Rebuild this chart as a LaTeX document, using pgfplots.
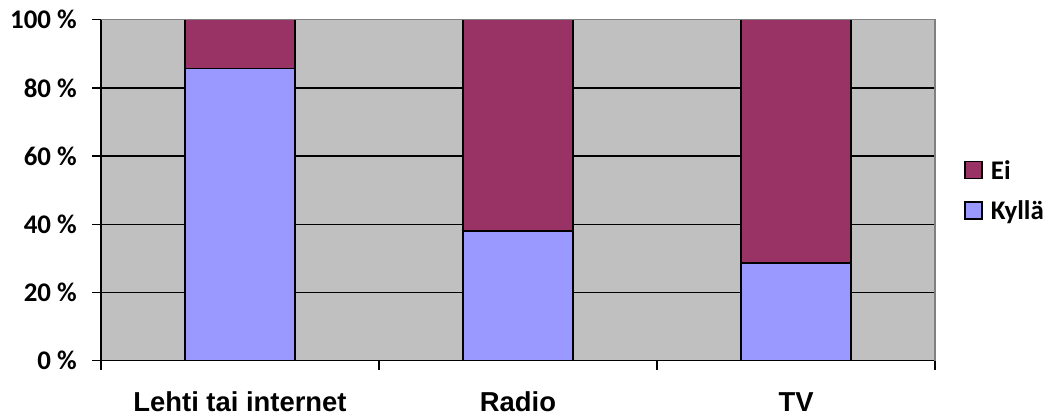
\documentclass[border=0pt]{standalone}
\usepackage{fontspec}
\setmainfont{Carlito}[BoldFont={Carlito Bold}]
\newfontfamily\arialb{Liberation Sans}
\usepackage{pgfplots}
\pgfplotsset{compat=1.18}
\definecolor{kylla}{HTML}{9999FF}
\definecolor{ei}{HTML}{993366}
\definecolor{bg}{HTML}{C0C0C0}
\definecolor{frame}{HTML}{808080}
\newcommand\tf{\fontsize{27}{27}\selectfont\bfseries}
\begin{document}
\begin{tikzpicture}[x=1bp,y=1bp]
\path[use as bounding box] (0,0) rectangle (1053,416);
\begin{axis}[
 at={(101bp,55.3bp)}, anchor=south west,
 scale only axis, width=834bp, height=341bp,
 ybar stacked, bar width=110bp,
 xmin=-0.5, xmax=2.5, ymin=0, ymax=100,
 axis background/.style={fill=bg},
 axis x line*=bottom, axis y line*=left,
 axis line style={black, line width=1.5bp, -},
 ymajorgrids, major grid style={black, line width=1.5bp},
 ytick={0,20,40,60,80,100},
 yticklabels={{\tf 0 \%},{\tf 20 \%},{\tf 40 \%},{\tf 60 \%},{\tf 80 \%},{\tf 100 \%}},
 yticklabel style={anchor=east, inner sep=0pt, xshift=-15bp},
 xtick={-0.5,0.5,1.5,2.5}, xticklabels={},
 extra x ticks={0,1,2},
 extra x tick labels={Lehti tai internet,Radio,TV},
 extra x tick style={tick style={draw=none}, grid=none},
 xticklabel style={font=\arialb\bfseries\fontsize{27.5}{27.5}\selectfont, anchor=base, inner sep=0pt, yshift=-42bp},
 tick align=outside, major tick length=9bp,
 tick style={black, line width=1.5bp},
 reverse legend,
 legend style={at={(1.035,0.498)}, anchor=west, draw=none, fill=none, inner sep=0pt,
   row sep=16bp, font=\tf, legend cell align=left,
   nodes={inner sep=2bp}},
 legend image code/.code={\draw[#1, draw=black, line width=1.5bp] (0bp,-8bp) rectangle (17bp,9bp); \path (23bp,0bp);},
 after end axis/.code={\draw[frame, line width=1.5bp] (rel axis cs:0,1) -- (rel axis cs:1,1) -- (rel axis cs:1,0);},
]
\addplot[fill=kylla, draw=black, line width=1.5bp] coordinates {(0,85.7) (1,38.0) (2,28.6)};
\addlegendentry{Kyllä}
\addplot[fill=ei, draw=black, line width=1.5bp] coordinates {(0,14.3) (1,62.0) (2,71.4)};
\addlegendentry{Ei}
\end{axis}
\end{tikzpicture}
\end{document}
